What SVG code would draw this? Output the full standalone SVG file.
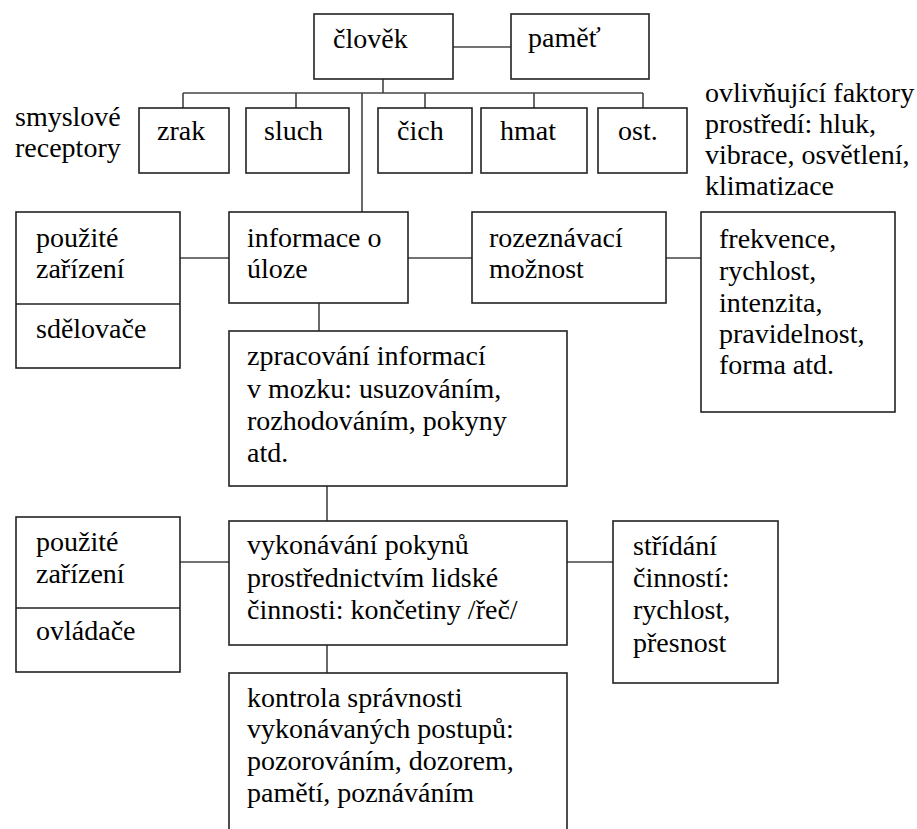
<svg xmlns="http://www.w3.org/2000/svg" width="917" height="829" viewBox="0 0 917 829">
<style>
.box{fill:#fff;stroke:#222;stroke-width:1.6}
.ln{stroke:#444;stroke-width:1.6;fill:none}
</style>
<rect width="917" height="829" fill="#fff"/>
<g id="connectors">
<path class="ln" d="M453 47H511"/>
<path class="ln" d="M383 79V93"/>
<path class="ln" d="M183 93H643"/>
<path class="ln" d="M183 93V108M296 93V108M425 93V108M534 93V108M643 93V108"/>
<path class="ln" d="M362 93V212"/>
<path class="ln" d="M180 258H229M408 258H472M666 258H701"/>
<path class="ln" d="M319 303V331"/>
<path class="ln" d="M327 486V521"/>
<path class="ln" d="M180 562H229M567 562H613"/>
<path class="ln" d="M327 645V673"/>
</g>
<g font-family="Liberation Serif, Times New Roman, serif" font-size="28" fill="#000">
<g id="clovek"><rect class="box" x="314" y="14" width="139" height="65"/><text x="333" y="48">člověk</text></g>
<g id="pamet"><rect class="box" x="511" y="14" width="138" height="65"/><text x="528" y="47">paměť</text></g>
<g id="smyslove-receptory"><text x="15" y="126">smyslové</text><text x="15" y="157">receptory</text></g>
<g id="zrak"><rect class="box" x="139" y="108" width="90" height="65"/><text x="157" y="140">zrak</text></g>
<g id="sluch"><rect class="box" x="246" y="108" width="103" height="65"/><text x="264" y="140">sluch</text></g>
<g id="cich"><rect class="box" x="378" y="108" width="94" height="65"/><text x="397" y="140">čich</text></g>
<g id="hmat"><rect class="box" x="481" y="108" width="106" height="65"/><text x="500" y="140">hmat</text></g>
<g id="ost"><rect class="box" x="598" y="108" width="89" height="65"/><text x="618" y="140">ost.</text></g>
<g id="faktory"><text x="705" y="102">ovlivňující faktory</text><text x="705" y="133">prostředí: hluk,</text><text x="705" y="164">vibrace, osvětlení,</text><text x="705" y="195">klimatizace</text></g>
<g id="zarizeni1"><rect class="box" x="16" y="212" width="164" height="156"/><path class="ln" d="M16 304H180" style="stroke:#222"/><text x="36" y="247">použité</text><text x="36" y="278">zařízení</text><text x="36" y="338">sdělovače</text></g>
<g id="informace"><rect class="box" x="229" y="212" width="179" height="91"/><text x="247" y="247">informace o</text><text x="247" y="278">úloze</text></g>
<g id="rozeznavaci"><rect class="box" x="472" y="212" width="194" height="91"/><text x="489" y="247">rozeznávací</text><text x="489" y="278">možnost</text></g>
<g id="frekvence"><rect class="box" x="701" y="212" width="194" height="200"/><text x="719" y="248">frekvence,</text><text x="719" y="280">rychlost,</text><text x="719" y="312">intenzita,</text><text x="719" y="343">pravidelnost,</text><text x="719" y="374">forma atd.</text></g>
<g id="zpracovani"><rect class="box" x="229" y="331" width="338" height="155"/><text x="247" y="365">zpracování informací</text><text x="247" y="398">v mozku: usuzováním,</text><text x="247" y="430">rozhodováním, pokyny</text><text x="247" y="462">atd.</text></g>
<g id="zarizeni2"><rect class="box" x="16" y="517" width="164" height="155"/><path class="ln" d="M16 608H180" style="stroke:#222"/><text x="36" y="551">použité</text><text x="36" y="583">zařízení</text><text x="36" y="640">ovládače</text></g>
<g id="vykonavani"><rect class="box" x="229" y="521" width="338" height="124"/><text x="247" y="554">vykonávání pokynů</text><text x="247" y="587">prostřednictvím lidské</text><text x="247" y="619">činnosti: končetiny /řeč/</text></g>
<g id="stridani"><rect class="box" x="613" y="521" width="165" height="162"/><text x="633" y="555">střídání</text><text x="633" y="587">činností:</text><text x="633" y="619">rychlost,</text><text x="633" y="652">přesnost</text></g>
<g id="kontrola"><rect class="box" x="229" y="673" width="338" height="170"/><text x="247" y="707">kontrola správnosti</text><text x="247" y="738">vykonávaných postupů:</text><text x="247" y="770">pozorováním, dozorem,</text><text x="247" y="802">pamětí, poznáváním</text></g>
</g>
</svg>
